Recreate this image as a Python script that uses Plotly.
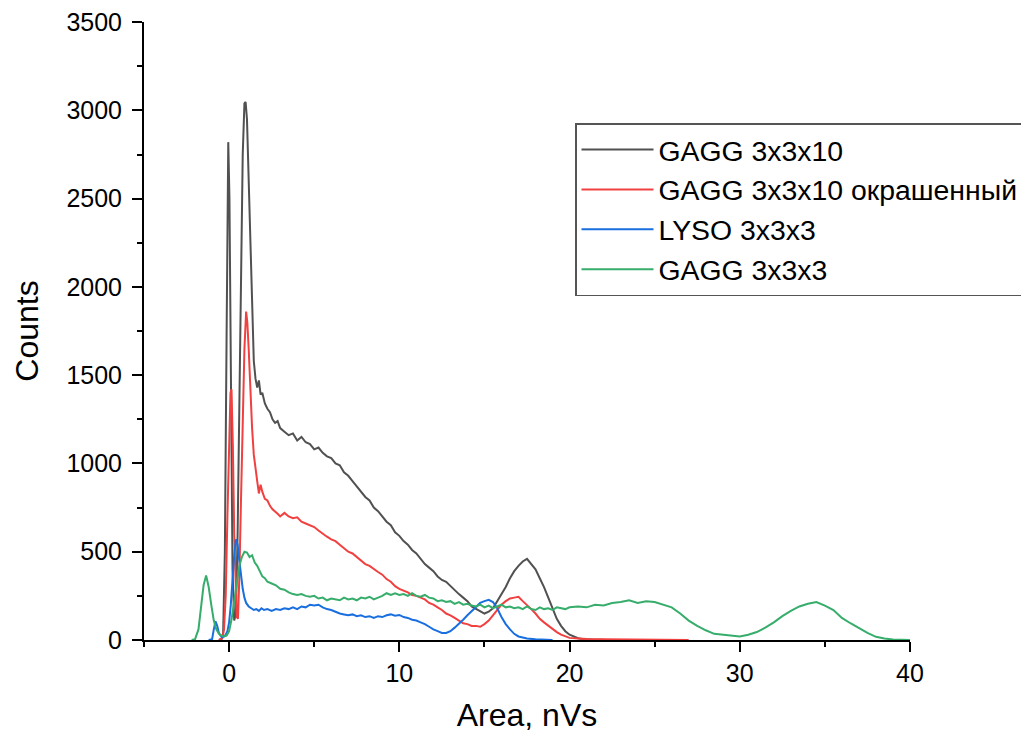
import plotly.graph_objects as go

# ---------------- data ----------------
names = ["GAGG 3x3x10", "GAGG 3x3x10 окрашенный", "LYSO 3x3x3", "GAGG 3x3x3"]
colors = ["#515151", "#F14040", "#1A6FDF", "#37AD6B"]

black_x = [-0.6, -0.45, -0.35, -0.25, -0.15, -0.05, 0.02, 0.1, 0.2, 0.3, 0.4, 0.5, 0.6, 0.7, 0.8, 0.9,
           0.97, 1.05, 1.15, 1.25, 1.35, 1.45, 1.55, 1.65, 1.75, 1.85, 1.95, 2.1, 2.25, 2.4, 2.55, 2.7,
           2.85, 3.0, 3.25, 3.5, 3.75, 4.0, 4.25, 4.5, 4.75, 5.0, 5.25, 5.5, 5.75, 6.0, 6.25, 6.5, 6.75,
           7.0, 7.25, 7.5, 7.75, 8.0, 8.25, 8.5, 8.75, 9.0, 9.25, 9.5, 9.75, 10.0, 10.25, 10.5, 10.75,
           11.0, 11.25, 11.5, 11.75, 12.0, 12.25, 12.5, 12.75, 13.0, 13.25, 13.5, 13.75, 14.0, 14.25,
           14.5, 14.75, 15.0, 15.25, 15.5, 15.75, 16.0, 16.25, 16.5, 16.75, 17.0, 17.25, 17.5, 17.75,
           18.0, 18.25, 18.5, 18.75, 19.0, 19.25, 19.5, 19.75, 20.0, 20.25, 20.5, 20.75, 21.0, 21.5, 22.0]
black_y = [0, 5, 40, 500, 1700, 2820, 2500, 1400, 400, 110, 150, 600, 1400, 2200, 2750, 3040,
           3047, 2950, 2600, 2150, 1800, 1580, 1480, 1430, 1470, 1390, 1400, 1340, 1310, 1290, 1250, 1230,
           1240, 1200, 1180, 1160, 1170, 1130, 1150, 1120, 1110, 1080, 1090, 1060, 1040, 1030, 1000, 990, 950,
           930, 900, 870, 840, 810, 790, 750, 730, 700, 670, 650, 610, 590, 560, 540, 510,
           490, 460, 430, 410, 390, 360, 340, 330, 305, 280, 260, 240, 220, 190,
           175, 160, 150, 160, 180, 220, 260, 300, 350, 390, 420, 445, 460, 430,
           400, 350, 300, 240, 180, 120, 80, 50, 30, 18, 10, 6, 4, 2, 1]

red_x = [-0.6, -0.4, -0.3, -0.2, -0.1, 0.0, 0.08, 0.14, 0.22, 0.3, 0.38, 0.45, 0.52, 0.6, 0.7, 0.8,
         0.9, 1.0, 1.07, 1.15, 1.25, 1.35, 1.45, 1.55, 1.65, 1.75, 1.85, 1.95, 2.1, 2.25, 2.4, 2.55,
         2.7, 2.85, 3.0, 3.25, 3.5, 3.75, 4.0, 4.25, 4.5, 4.75, 5.0, 5.25, 5.5, 5.75, 6.0, 6.25, 6.5,
         6.75, 7.0, 7.25, 7.5, 7.75, 8.0, 8.25, 8.5, 8.75, 9.0, 9.25, 9.5, 9.75, 10.0, 10.25, 10.5,
         10.75, 11.0, 11.25, 11.5, 11.75, 12.0, 12.25, 12.5, 12.75, 13.0, 13.25, 13.5, 13.75, 14.0,
         14.25, 14.5, 14.75, 15.0, 15.25, 15.5, 15.75, 16.0, 16.25, 16.5, 16.75, 17.0, 17.25, 17.5,
         17.75, 18.0, 18.25, 18.5, 18.75, 19.0, 19.25, 19.5, 19.75, 20.0, 20.5, 21.0, 22.0, 23.0,
         24.0, 25.0, 26.0, 27.0]
red_y = [0, 10, 60, 250, 700, 1150, 1400, 1420, 1100, 600, 250, 130, 120, 350, 800, 1300,
         1650, 1860, 1800, 1650, 1400, 1200, 1050, 960, 900, 830, 880, 840, 800, 790, 760, 740,
         730, 715, 700, 720, 700, 690, 695, 670, 660, 650, 640, 620, 600, 585, 570, 560, 540,
         520, 500, 490, 470, 450, 430, 420, 400, 385, 370, 345, 330, 305, 290, 280, 270,
         255, 250, 240, 230, 210, 200, 185, 170, 150, 140, 125, 110, 95, 90,
         80, 80, 75, 90, 110, 140, 170, 200, 220, 235, 240, 245, 220, 200,
         175, 150, 120, 100, 80, 60, 45, 30, 20, 12, 8, 5, 4, 3,
         3, 2, 1, 0]

blue_x = [-1.2, -1.0, -0.9, -0.8, -0.7, -0.6, -0.5, -0.4, -0.3, -0.2, -0.1, 0.0, 0.1, 0.2, 0.3, 0.4,
          0.5, 0.6, 0.7, 0.8, 0.9, 1.0, 1.15, 1.3, 1.45, 1.6, 1.75, 1.9, 2.05, 2.25, 2.5, 2.75, 3.0,
          3.25, 3.5, 3.75, 4.0, 4.25, 4.5, 4.75, 5.0, 5.25, 5.5, 5.75, 6.0, 6.25, 6.5, 6.75, 7.0,
          7.25, 7.5, 7.75, 8.0, 8.25, 8.5, 8.75, 9.0, 9.25, 9.5, 9.75, 10.0, 10.25, 10.5, 10.75, 11.0,
          11.25, 11.5, 11.75, 12.0, 12.25, 12.5, 12.75, 13.0, 13.25, 13.5, 13.75, 14.0, 14.25, 14.5,
          14.75, 15.0, 15.25, 15.5, 15.75, 16.0, 16.25, 16.5, 16.75, 17.0, 17.25, 17.5, 18.0, 18.5, 19.0]
blue_y = [0, 5, 60, 105, 80, 40, 25, 15, 20, 30, 50, 100, 200, 350, 480, 570,
          540, 450, 360, 290, 240, 210, 190, 180, 170, 175, 165, 180, 170, 175, 165, 175, 170,
          180, 175, 185, 175, 190, 185, 200, 195, 200, 185, 175, 170, 160, 150, 145, 140,
          145, 135, 140, 130, 135, 125, 135, 130, 140, 145, 138, 142, 130, 125, 115, 110,
          100, 90, 75, 60, 50, 40, 40, 50, 70, 90, 115, 140, 165, 190,
          210, 220, 228, 215, 180, 130, 90, 60, 35, 20, 12, 8, 4, 2, 0]

green_x = [-2.2, -2.0, -1.8, -1.65, -1.5, -1.35, -1.2, -1.05, -0.9, -0.75, -0.6, -0.45, -0.3, -0.15,
           0.0, 0.15, 0.3, 0.45, 0.6, 0.75, 0.9, 1.05, 1.2, 1.35, 1.5, 1.65, 1.8, 1.95, 2.1, 2.25, 2.5,
           2.75, 3.0, 3.25, 3.5, 3.75, 4.0, 4.25, 4.5, 4.75, 5.0, 5.25, 5.5, 5.75, 6.0, 6.25, 6.5, 6.75,
           7.0, 7.25, 7.5, 7.75, 8.0, 8.25, 8.5, 8.75, 9.0, 9.25, 9.5, 9.75, 10.0, 10.25, 10.5, 10.75,
           11.0, 11.25, 11.5, 11.75, 12.0, 12.25, 12.5, 12.75, 13.0, 13.25, 13.5, 13.75, 14.0, 14.25,
           14.5, 14.75, 15.0, 15.25, 15.5, 15.75, 16.0, 16.25, 16.5, 16.75, 17.0, 17.25, 17.5, 17.75,
           18.0, 18.25, 18.5, 18.75, 19.0, 19.25, 19.5, 19.75, 20.0, 20.5, 21.0, 21.5, 22.0, 22.5, 23.0,
           23.5, 24.0, 24.5, 25.0, 25.5, 26.0, 26.5, 27.0, 27.5, 28.0, 28.5, 29.0, 29.5, 30.0, 30.5,
           31.0, 31.5, 32.0, 32.5, 33.0, 33.5, 34.0, 34.5, 35.0, 35.5, 36.0, 36.5, 37.0, 37.5, 38.0,
           38.5, 39.0, 39.5, 40.0]
green_y = [0, 5, 60, 180, 310, 365, 300, 200, 110, 60, 35, 25, 20, 25,
           50, 120, 230, 340, 420, 470, 500, 495, 470, 480, 440, 420, 390, 360, 350, 330, 320,
           310, 290, 285, 270, 260, 255, 260, 250, 245, 250, 235, 240, 225, 235, 230, 225, 240,
           230, 235, 225, 240, 235, 245, 230, 240, 250, 265, 255, 265, 255, 260, 250, 265,
           250, 245, 255, 240, 235, 220, 225, 215, 220, 205, 215, 200, 205, 195,
           190, 200, 185, 195, 180, 190, 200, 185, 190, 180, 185, 175, 190, 175,
           170, 185, 175, 180, 170, 185, 180, 175, 185, 190, 185, 200, 195, 210, 215,
           225, 210, 220, 215, 200, 185, 150, 110, 80, 55, 35, 30, 25, 20, 30,
           45, 70, 100, 135, 165, 190, 205, 215, 195, 170, 125, 95, 65, 40, 18,
           8, 3, 1, 0]

series_x = [black_x, red_x, blue_x, green_x]
series_y = [black_y, red_y, blue_y, green_y]

x_ticks = [0, 10, 20, 30, 40]
y_ticks = [0, 500, 1000, 1500, 2000, 2500, 3000, 3500]

# ---------------- figure ----------------
FONT = "Liberation Sans, Arial, sans-serif"
fig = go.Figure()
for i in range(4):
    fig.add_trace(go.Scatter(
        x=series_x[i], y=series_y[i], mode="lines", name=names[i],
        legendgroup=f"g{i}",
        line=dict(color=colors[i], width=2),
    ))

axis_common = dict(
    showline=True, linecolor="black", linewidth=2, mirror=False,
    showgrid=False, zeroline=False,
    ticks="outside", ticklen=10, tickwidth=2, tickcolor="black",
    tickfont=dict(family=FONT, size=25, color="black"),
    ticklabeloverflow="allow",
)

fig.update_xaxes(
    range=[-5, 40], tickvals=x_ticks, ticktext=[str(v) for v in x_ticks],
    minor=dict(ticks="outside", ticklen=5, tickwidth=2, tickcolor="black", dtick=5, tick0=-5),
    title=dict(text="Area, nVs", font=dict(family=FONT, size=32, color="black"), standoff=18),
    ticklabelstandoff=0,
    **axis_common,
)
fig.update_yaxes(
    range=[0, 3500.5], tickvals=y_ticks, ticktext=[str(v) for v in y_ticks],
    minor=dict(ticks="outside", ticklen=5, tickwidth=2, tickcolor="black", dtick=250, tick0=0),
    title=dict(text="Counts", font=dict(family=FONT, size=32, color="black"), standoff=18),
    ticklabelstandoff=5,
    **axis_common,
)

# the page body has an 8 px margin, so the figure is drawn 8 px in from the corner
fig.update_layout(
    width=1021, height=727,
    margin=dict(l=136, r=119, t=14, b=95, autoexpand=False),
    paper_bgcolor="white", plot_bgcolor="white",
    showlegend=True,
    legend=dict(
        x=(575 - 144) / 766, y=(640 - 123) / 618, xanchor="left", yanchor="top",
        bgcolor="white", bordercolor="#555555", borderwidth=1.5,
        font=dict(family=FONT, size=28.4, color="black"),
        traceorder="grouped", tracegroupgap=0, itemwidth=72,
    ),
)

fig.write_html("out.html")
